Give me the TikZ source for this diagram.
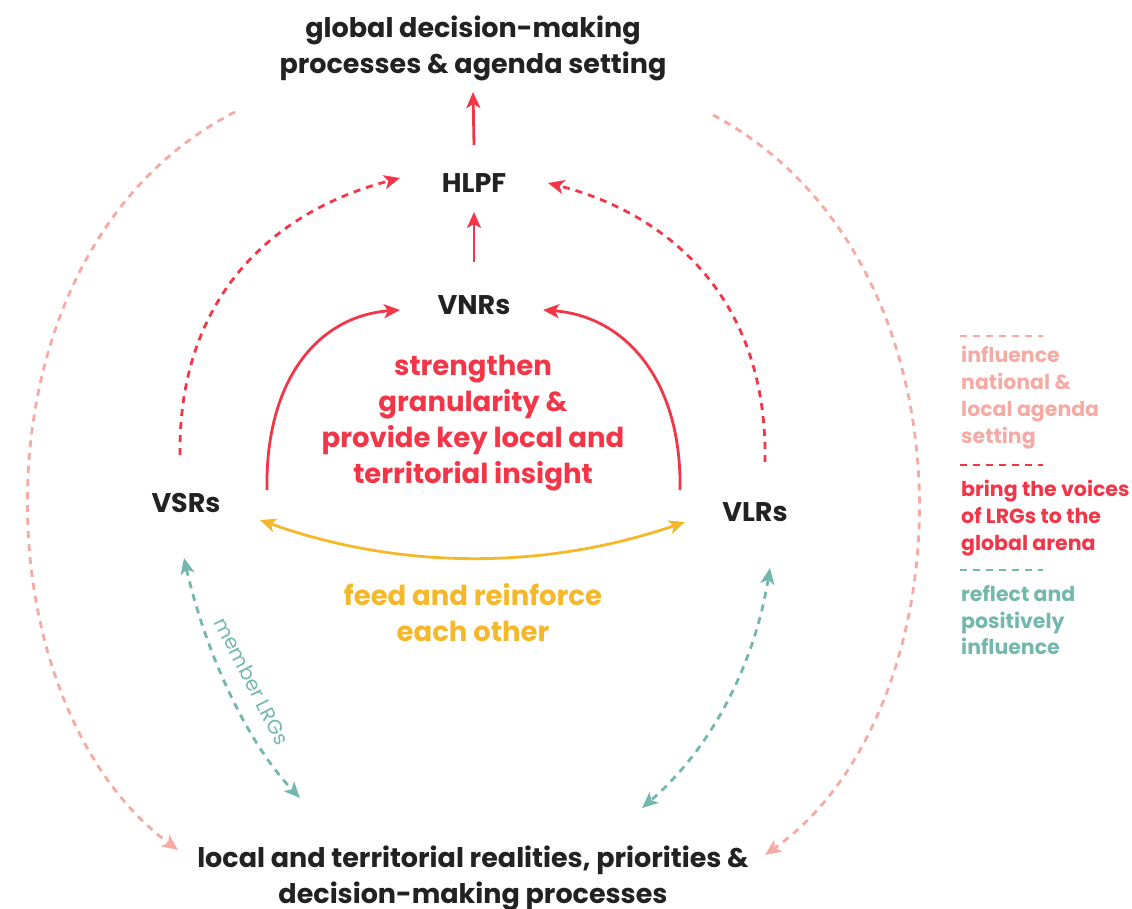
\documentclass[tikz,border=0pt]{standalone}
\usepackage{fontspec}
\setmainfont{Poppins}
\usetikzlibrary{arrows.meta}
\usetikzlibrary{positioning}
\definecolor{ink}{HTML}{222222}
\definecolor{voicered}{HTML}{F23648}
\definecolor{agendapink}{HTML}{F6AAA4}
\definecolor{reflectteal}{HTML}{74B8AD}
\definecolor{feedyellow}{HTML}{F5B82B}

\begin{document}
\begin{tikzpicture}[x=1pt,y=-1pt]
  \tikzstyle{arrow} = [line width=2.8pt,-{Stealth[length=16pt,width=14pt,inset=4pt]}]
  \tikzstyle{twoway} = [line width=2.8pt,{Stealth[length=16pt,width=14pt,inset=4pt]}-{Stealth[length=16pt,width=14pt,inset=4pt]}]
  \tikzstyle{dashline} = [dash pattern=on 7pt off 6pt]
  \tikzstyle{mainlabel} = [font=\fontsize{27}{36}\selectfont\bfseries, text=ink, align=center, inner sep=0pt]
  \tikzstyle{redlabel} = [font=\fontsize{27.5}{36}\selectfont\bfseries, text=voicered, align=center, inner sep=0pt]
  \tikzstyle{legendtext} = [font=\fontsize{20.5}{26.8}\selectfont\bfseries, align=left, anchor=north west, inner sep=0pt]
  \useasboundingbox (0,0) rectangle (1132,908);
  %Draw the nodes
  \node[mainlabel] (top) at (473,48) {global decision-making\\processes \& agenda setting};
  \node[mainlabel] (hlpf) at (474,183) {HLPF};
  \node[mainlabel] (vnrs) at (474,305) {VNRs};
  \node[mainlabel] (vsrs) at (186,503) {VSRs};
  \node[mainlabel] (vlrs) at (755,512) {VLRs};
  \node[mainlabel] (bottom) at (473,878) {local and territorial realities, priorities \&\\decision-making processes};
  \node[redlabel] (insight) at (473,423) {strengthen\\granularity \&\\provide key local and\\territorial insight};
  \node[mainlabel, font=\fontsize{27.5}{36}\selectfont\bfseries, text=feedyellow] (feed) at (473,613) {feed and reinforce\\each other};
  %Free ends of the curves
  \coordinate (vsrtop) at (180,455);
  \coordinate (vlrtop) at (765,462);
  \coordinate (vsrfoot) at (267,490);
  \coordinate (vlrfoot) at (680,490);
  \coordinate (pinkleft) at (235,112);
  \coordinate (pinkright) at (713,115);
  %Draw the upward arrows
  \draw[arrow, voicered] ([shift={(0,-38)}]hlpf.center) -- ([shift={(0,44)}]top.center);
  \draw[arrow, voicered] ([shift={(0,-43)}]vnrs.center) -- ([shift={(0,29)}]hlpf.center);
  %Draw solid arcs to VNRs
  \draw[arrow, voicered] (vsrfoot) .. controls (265,380) and (318,316) .. ([shift={(-74,5)}]vnrs.center);
  \draw[arrow, voicered] (vlrfoot) .. controls (682,380) and (625,316) .. ([shift={(69,5)}]vnrs.center);
  %Draw dashed arcs to HLPF
  \draw[arrow, dashline, voicered] (vsrtop) .. controls (178,300) and (270,212) .. ([shift={(-74,-5)}]hlpf.center);
  \draw[arrow, dashline, voicered] (vlrtop) .. controls (768,300) and (670,214) .. ([shift={(74,0)}]hlpf.center);
  %Draw the yellow link
  \draw[twoway, feedyellow] ([shift={(74,17)}]vsrs.center) .. controls (400,570) and (545,570) .. ([shift={(-70,10)}]vlrs.center);
  %Draw the teal links
  \draw[twoway, dashline, reflectteal] ([shift={(-2,55)}]vsrs.center) .. controls (205,650) and (245,740) .. ([shift={(-173,-80)}]bottom.center);
  \draw[twoway, dashline, reflectteal] ([shift={(15,56)}]vlrs.center) .. controls (755,660) and (715,745) .. ([shift={(169,-70)}]bottom.center);
  \node[font=\fontsize{20}{22}\selectfont, text=reflectteal, rotate=-63, inner sep=0pt] (member) at (252,681) {member LRGs};
  %Draw the big pink arcs
  \draw[arrow, dashline, agendapink] (pinkleft) .. controls (-35,250) and (-25,700) .. ([shift={(-295,-28)}]bottom.center);
  \draw[arrow, dashline, agendapink] (pinkright) .. controls (985,260) and (970,710) .. ([shift={(292,-23)}]bottom.center);
  %Draw the legend
  \draw[line width=2.8pt, dashline, agendapink] (960,336) -- (1043,336);
  \node[legendtext, text=agendapink] (legpink) at (961,346) {influence\\national \&\\local agenda\\setting};
  \draw[line width=2.8pt, dashline, voicered] (960,465) -- (1043,465);
  \node[legendtext, text=voicered] (legred) at (961,480) {bring the voices\\of LRGs to the\\global arena};
  \draw[line width=2.8pt, dashline, reflectteal] (960,570) -- (1043,570);
  \node[legendtext, text=reflectteal] (legteal) at (961,585) {reflect and\\positively\\influence};
\end{tikzpicture}
\end{document}
